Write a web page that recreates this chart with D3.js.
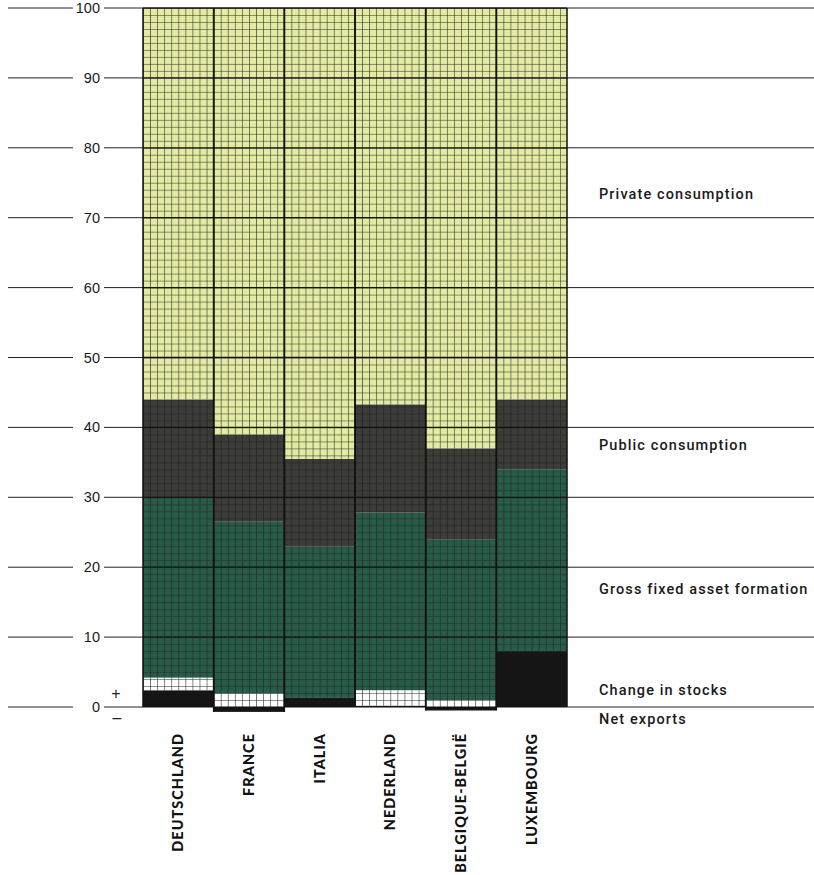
<!DOCTYPE html>
<html><head><meta charset="utf-8">
<script src="https://cdn.jsdelivr.net/npm/d3@7"></script>
<style>body{margin:0;background:#fff}svg{display:block}</style>
</head><body>
<svg id="c" width="814" height="875"></svg>
<script>
const countries = ["DEUTSCHLAND","FRANCE","ITALIA","NEDERLAND","BELGIQUE-BELGIË","LUXEMBOURG"];
const netExports = [2.4, -0.7, 1.3, 0.2, -0.5, 8.0];
const stockChange = [1.8, 1.9, 0.0, 2.2, 1.0, 0.0];
const grossFixed = [25.8, 24.6, 21.7, 25.4, 23.0, 26.0];
const publicCons = [14.0, 12.5, 12.5, 15.5, 13.0, 10.0];
const privateCons = [56.0, 61.0, 64.5, 56.7, 63.0, 56.0];
const yTicks = [0,10,20,30,40,50,60,70,80,90,100];
const seriesLabels = [
  {name:"Private consumption", v:73.4},
  {name:"Public consumption", v:37.5},
  {name:"Gross fixed asset formation", v:16.9},
  {name:"Change in stocks", v:0.0, dy:-17},
  {name:"Net exports", v:0.0, dy:12}
];

const svg = d3.select("#c");
const x = d3.scaleBand().domain(countries).range([143, 567]).padding(0);
const y = d3.scaleLinear().domain([0, 100]).range([707, 8]);
const cw = x.bandwidth()/10, ch = y(0)-y(1);

const defs = svg.append("defs");
function pat(id, bg, line, lw){
  const p = defs.append("pattern").attr("id", id).attr("patternUnits","userSpaceOnUse")
    .attr("width", cw).attr("height", ch)
    .attr("patternTransform", `translate(${x.range()[0]},${y(0)})`);
  p.append("rect").attr("width", cw).attr("height", ch).attr("fill", bg);
  p.append("path").attr("d", `M0,0H${cw}M0,0V${ch}`).attr("stroke", line).attr("stroke-width", lw).attr("fill","none");
}
pat("pPriv", "#e4eaa4", "#2a2e1e", 1.15);
pat("pPub", "#3c3d39", "#1e1f1c", 1.2);
pat("pGross", "#285b48", "#1f2a25", 1.2);
pat("pStock", "#ffffff", "#222", 1.1);

// build stacks
const segs = [];
countries.forEach((c,i)=>{
  let base = 0;
  if (netExports[i] < 0) segs.push({c, y0: netExports[i], y1: 0, f: "#151515"});
  else { segs.push({c, y0: 0, y1: netExports[i], f: "#151515"}); base = netExports[i]; }
  const parts = [[stockChange[i],"url(#pStock)"],[grossFixed[i],"url(#pGross)"],[publicCons[i],"url(#pPub)"],[privateCons[i],"url(#pPriv)"]];
  parts.forEach(([v,f])=>{ if (v>0){ segs.push({c, y0: base, y1: base+v, f}); base += v; } });
});

// right-side gridlines and left tick lines
const g = svg.append("g");
yTicks.forEach(t=>{
  const yy = y(t);
  g.append("line").attr("x1",8).attr("x2",73).attr("y1",yy).attr("y2",yy).attr("stroke","#222").attr("stroke-width",1);
  g.append("line").attr("x1",104).attr("x2",143).attr("y1",yy).attr("y2",yy).attr("stroke","#222").attr("stroke-width",1);
  g.append("line").attr("x1",567).attr("x2",814).attr("y1",yy).attr("y2",yy).attr("stroke","#222").attr("stroke-width",1);
  g.append("text").attr("x",100).attr("y",yy+5).attr("text-anchor","end")
    .attr("font-family","Liberation Sans, Arial, sans-serif").attr("font-size",14.5).attr("fill","#1a1a1a").text(t);
});

svg.append("g").selectAll("rect").data(segs).join("rect")
  .attr("x", d=>x(d.c)).attr("width", x.bandwidth())
  .attr("y", d=>y(d.y1)).attr("height", d=>y(d.y0)-y(d.y1))
  .attr("fill", d=>d.f);

// major lines across bars
const bg = svg.append("g");
yTicks.filter(t=>t>0).forEach(t=>{
  bg.append("line").attr("x1",x.range()[0]).attr("x2",x.range()[1]).attr("y1",y(t)).attr("y2",y(t))
    .attr("stroke","#111").attr("stroke-width",1.3);
});
countries.forEach((c,i)=>{
  const lo = Math.min(0, netExports[i]);
  bg.append("line").attr("x1",x(c)).attr("x2",x(c)).attr("y1",y(100)).attr("y2",y(lo)).attr("stroke","#111").attr("stroke-width",1.5);
  bg.append("line").attr("x1",x(c)+x.bandwidth()).attr("x2",x(c)+x.bandwidth()).attr("y1",y(100)).attr("y2",y(lo)).attr("stroke","#111").attr("stroke-width",1.5);
});
// zero line
bg.append("line").attr("x1",x.range()[0]).attr("x2",x.range()[1]).attr("y1",y(0)).attr("y2",y(0)).attr("stroke","#111").attr("stroke-width",1.2);

// plus / minus
svg.append("text").attr("x",116).attr("y",y(0)-8).attr("text-anchor","middle").attr("font-family","Liberation Sans, Arial").attr("font-size",16).attr("fill","#222").text("+");
svg.append("text").attr("x",117).attr("y",y(0)+16).attr("text-anchor","middle").attr("font-family","Liberation Sans, Arial").attr("font-size",16).attr("fill","#222").text("–");

// series labels on the right
svg.append("g").selectAll("text").data(seriesLabels).join("text")
  .attr("x",599).attr("y",d=>y(d.v)+(d.dy||0)+5)
  .attr("font-family","Roboto, Liberation Sans, Arial").attr("font-weight",500)
  .attr("font-size",14.5).attr("letter-spacing","1.1px").attr("fill","#1a1a1a").text(d=>d.name);

// category labels
svg.append("g").selectAll("text").data(countries).join("text")
  .attr("transform", d=>`translate(${x(d)+x.bandwidth()/2+5},733) rotate(-90)`)
  .attr("text-anchor","end")
  .attr("font-family","Lato, Open Sans, sans-serif").attr("font-weight",900)
  .attr("font-size",14.5).attr("letter-spacing","1px").attr("fill","#111").text(d=>d);
</script>
</body></html>
